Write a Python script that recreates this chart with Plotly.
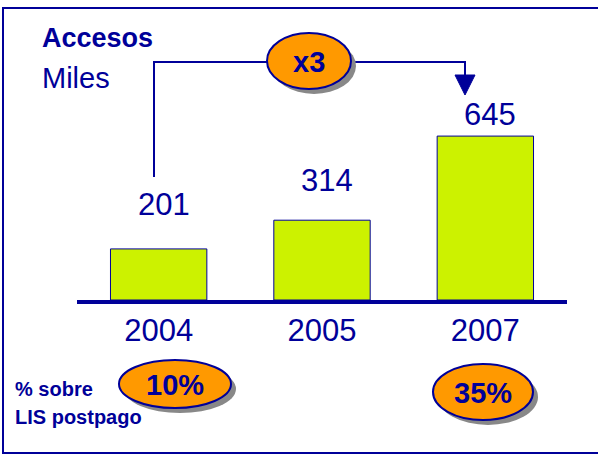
import plotly.graph_objects as go

anios = ['2004', '2005', '2007']
accesos = [201, 314, 645]
pct_postpago = ['10%', '35%']
factor = 'x3'

NAVY = '#000099'
LIMA = '#CCF200'
NARANJA = '#FF9900'
FONT = 'Liberation Sans'

W, H = 598, 454
L, R, T, B = 77, 31, 100, 154
PW, PH = W - L - R, H - T - B


def px(x):
    return (x - L) / PW


def py(y):
    return (H - B - y) / PH


fig = go.Figure(go.Bar(
    x=anios,
    y=accesos,
    marker=dict(color=LIMA, line=dict(color=NAVY, width=1)),
    hoverinfo='skip'
))

# etiquetas de valor sobre las barras (x por índice de categoría)
desplaz = [44, 40, 22]
for i, (v, d) in enumerate(zip(accesos, desplaz)):
    fig.add_annotation(x=i, y=v, text=str(v), showarrow=False, yanchor='middle',
                       yshift=d, xshift=5, font=dict(family=FONT, size=31, color=NAVY))

shapes = []
# marco
shapes.append(dict(type='rect', xref='paper', yref='paper', x0=px(3), x1=px(603),
                   y0=py(453), y1=py(8), line=dict(color=NAVY, width=2), layer='below'))
# flecha x3
flecha = f'M {px(154)},{py(177)} L {px(154)},{py(62)} L {px(465)},{py(62)} L {px(465)},{py(80)}'
shapes.append(dict(type='path', xref='paper', yref='paper', path=flecha,
                   line=dict(color=NAVY, width=2)))
shapes.append(dict(type='path', xref='paper', yref='paper',
                   path=f'M {px(455)},{py(75)} L {px(475)},{py(75)} L {px(465)},{py(95)} Z',
                   fillcolor=NAVY, line=dict(color=NAVY, width=1)))

elipses = [(309, 61, 42, 28, factor), (175, 384, 56, 24, pct_postpago[0]),
           (483, 392, 50, 28, pct_postpago[1])]
for cx, cy, rx, ry, txt in elipses:
    shapes.append(dict(type='circle', xref='paper', yref='paper',
                       x0=px(cx - rx + 5), x1=px(cx + rx + 5), y0=py(cy + ry + 5), y1=py(cy - ry + 5),
                       fillcolor='#888888', line=dict(width=0)))
    shapes.append(dict(type='circle', xref='paper', yref='paper',
                       x0=px(cx - rx), x1=px(cx + rx), y0=py(cy + ry), y1=py(cy - ry),
                       fillcolor=NARANJA, line=dict(color=NAVY, width=2)))
    fig.add_annotation(xref='paper', yref='paper', x=px(cx), y=py(cy + 1), text='<b>%s</b>' % txt,
                       showarrow=False, xanchor='center', yanchor='middle',
                       font=dict(family=FONT, size=29, color=NAVY))

textos = [
    ('<b>Accesos</b>', 40, 38, 27),
    ('Miles', 40, 78, 29),
    ('<b>% sobre</b>', 13, 389, 20),
    ('<b>LIS postpago</b>', 13, 417, 20),
]
for txt, x, y, s in textos:
    fig.add_annotation(xref='paper', yref='paper', x=px(x), y=py(y), text=txt, showarrow=False,
                       xanchor='left', yanchor='middle', font=dict(family=FONT, size=s, color=NAVY))

fig.update_layout(
    width=W, height=H,
    margin=dict(l=L, r=R, t=T, b=B, autoexpand=False),
    paper_bgcolor='white', plot_bgcolor='white',
    showlegend=False,
    bargap=0.41,
    shapes=shapes,
    xaxis=dict(type='category', range=[-0.5, 2.5], automargin=False, showline=True,
               linecolor=NAVY, linewidth=4, showgrid=False, ticks='', ticklabelstandoff=0,
               tickfont=dict(family=FONT, size=31, color=NAVY)),
    yaxis=dict(visible=False, range=[0, 787], automargin=False),
)

fig.write_html('out.html', config={'displayModeBar': False},
               post_script="document.body.style.margin='0';")
